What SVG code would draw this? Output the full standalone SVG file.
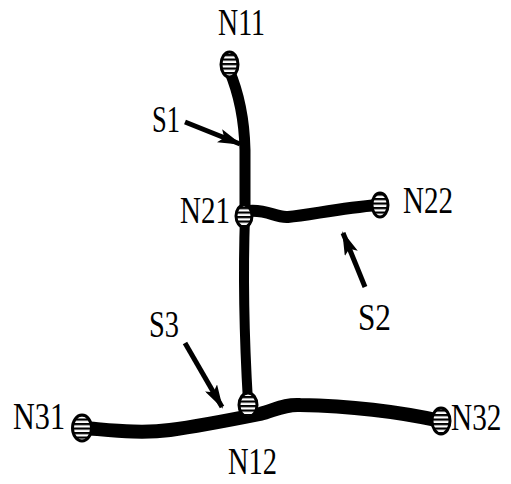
<svg xmlns="http://www.w3.org/2000/svg" width="511" height="484" viewBox="0 0 511 484">
<style>
.seg{fill:none;stroke:#000;stroke-linecap:round;stroke-linejoin:round}
.node{fill:url(#hatch);stroke:#000;stroke-width:3}
.lbl{font-family:"Liberation Serif","Times New Roman",serif;font-size:38px;fill:#000}
.arr{stroke:#000;stroke-width:5;fill:none;marker-end:url(#ah)}
</style>
<defs>
<pattern id="hatch" patternUnits="userSpaceOnUse" width="4.5" height="4.5">
<rect width="4.5" height="4.5" fill="#fff"/>
<rect y="0" width="4.5" height="2.2" fill="#000"/>
</pattern>
<marker id="ah" markerUnits="userSpaceOnUse" markerWidth="26" markerHeight="14" refX="22" refY="7" orient="auto" viewBox="0 0 26 14">
<path d="M0,0 L24,7 L0,14 L5,7 z" fill="#000"/>
</marker>
</defs>
<rect width="511" height="484" fill="#fff"/>
<g id="connectors">
<path id="S1" class="seg" stroke-width="11" d="M229,70 Q 244,105 245,150 L 245,216"/>
<path id="S1b" class="seg" stroke-width="10" d="M245,216 Q 242,300 248,402"/>
<path id="S2" class="seg" stroke-width="12" d="M248,211 C 268,209 275,218 288,217 C 310,215 340,208 378,205"/>
<path id="S3" class="seg" stroke-width="14" d="M84,428 C 110,430 140,434 170,430 C 200,426 230,420 260,414 C 275,410 285,404 300,405 C 350,406 400,412 441,421"/>
<line class="arr" x1="185" y1="122" x2="240" y2="144"/>
<line class="arr" x1="185" y1="343" x2="222" y2="407"/>
<line class="arr" x1="365" y1="287" x2="343" y2="233"/>
</g>
<g id="N11"><ellipse class="node" cx="229.5" cy="64.5" rx="8.5" ry="12.5"/><text class="lbl" x="218" y="35" textLength="47" lengthAdjust="spacingAndGlyphs">N11</text></g>
<g id="N21"><ellipse class="node" cx="244" cy="216" rx="8" ry="11"/><text class="lbl" x="180" y="223" textLength="50" lengthAdjust="spacingAndGlyphs">N21</text></g>
<g id="N22"><ellipse class="node" cx="380" cy="205" rx="8" ry="12"/><text class="lbl" x="403" y="213" textLength="50" lengthAdjust="spacingAndGlyphs">N22</text></g>
<g id="N12"><ellipse class="node" cx="248" cy="405" rx="9" ry="12"/><text class="lbl" x="228" y="474" textLength="49" lengthAdjust="spacingAndGlyphs">N12</text></g>
<g id="N31"><ellipse class="node" cx="82" cy="428" rx="9.5" ry="13"/><text class="lbl" x="13" y="429" textLength="52" lengthAdjust="spacingAndGlyphs">N31</text></g>
<g id="N32"><ellipse class="node" cx="441" cy="421" rx="9" ry="13"/><text class="lbl" transform="translate(451,430) scale(0.77,1)" x="0" y="0">N32</text></g>
<g id="labels">
<text class="lbl" x="152" y="132" textLength="28" lengthAdjust="spacingAndGlyphs">S1</text>
<text class="lbl" x="358" y="330" textLength="33" lengthAdjust="spacingAndGlyphs">S2</text>
<text class="lbl" x="149" y="337" textLength="30" lengthAdjust="spacingAndGlyphs">S3</text>
</g>
</svg>
